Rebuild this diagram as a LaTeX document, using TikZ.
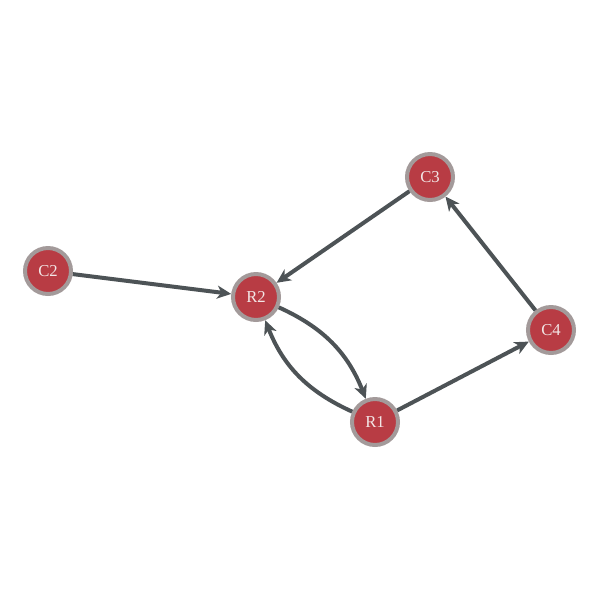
\documentclass[tikz,border=0pt]{standalone}
\usepackage{fontspec}
\setmainfont{Liberation Serif}
\usetikzlibrary{arrows.meta}
\definecolor{nodered}{HTML}{B83C44}
\definecolor{nodering}{HTML}{A39A9A}
\definecolor{edgegray}{HTML}{4D5356}
\definecolor{labelwhite}{HTML}{F2E6E6}

\begin{document}
\begin{tikzpicture}[x=0.02cm,y=-0.02cm]
          \tikzstyle{every node}+=[inner sep=0pt]
          \tikzstyle{vertex}=[circle, fill=nodered, draw=nodering, line width=0.08cm,
            minimum size=0.92cm, text=labelwhite, font=\fontsize{9.5}{11}\selectfont]
          \tikzstyle{link}=[edgegray, line width=0.08cm, -{Stealth[length=0.28cm,width=0.26cm,inset=0.08cm]}]
          \useasboundingbox (0,0) rectangle (600,600);
          \node [vertex] (c3) at (430,177) {C3};
          \node [vertex] (c2) at (48,271) {C2};
          \node [vertex] (r2) at (256,297) {R2};
          \node [vertex] (c4) at (551,330) {C4};
          \node [vertex] (r1) at (375,422) {R1};
          \draw [link] (c2) -- (r2);
          \draw [link] (c3) -- (r2);
          \draw [link] (c4) -- (c3);
          \draw [link] (r1) -- (c4);
          \draw [link] (r2) to[bend left=22] (r1);
          \draw [link] (r1) to[bend left=22] (r2);
        \end{tikzpicture}
\end{document}
